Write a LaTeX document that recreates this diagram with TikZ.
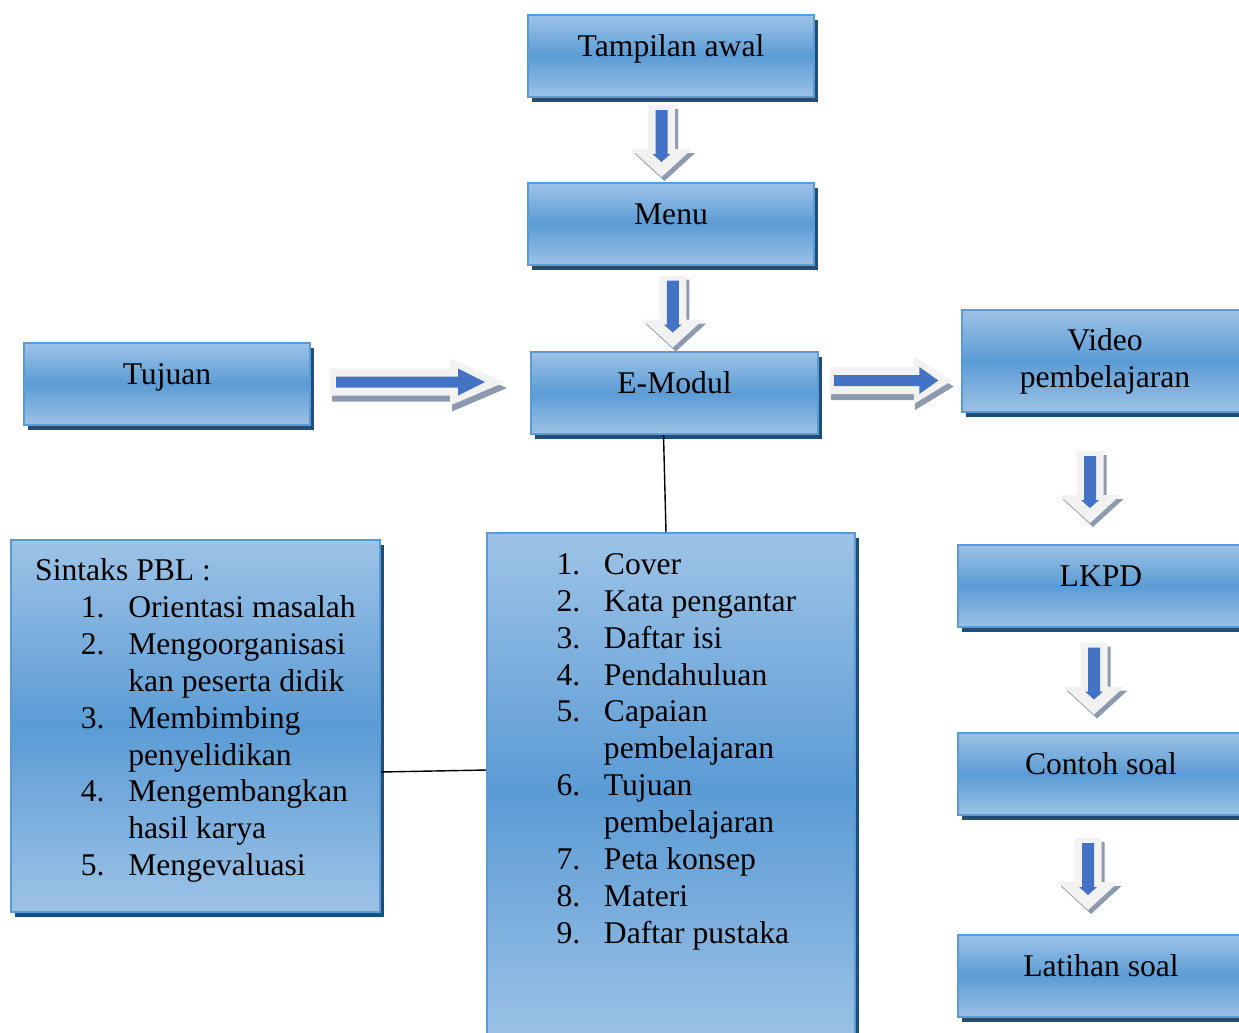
\documentclass[tikz,border=0pt]{standalone}
\usepackage{fontspec}
\setmainfont{Liberation Serif}
\usetikzlibrary{positioning,calc,shadows}

\definecolor{boxlight}{RGB}{157,195,230}
\definecolor{boxmid}{RGB}{91,155,213}
\definecolor{boxedge}{RGB}{91,155,213}
\definecolor{shadowblue}{RGB}{31,78,121}
\definecolor{arrowgrey}{RGB}{242,242,242}
\definecolor{arrowshade}{RGB}{141,153,174}
\definecolor{arrowblue}{RGB}{68,114,196}

\begin{document}
\begin{tikzpicture}[x=0.02cm,y=-0.02cm,font=\fontsize{18}{21}\selectfont,
    plain box/.style={rectangle,draw=boxedge,line width=1pt,
        top color=boxlight,bottom color=boxlight,middle color=boxmid,
        drop shadow={fill=shadowblue,opacity=1,shadow xshift=2.3pt,shadow yshift=-2.8pt},
        minimum width=5.72cm,minimum height=1.64cm},
    main box/.style={plain box,text height=12pt,text depth=12pt},
    downarrow/.pic={
        \fill[arrowshade,shift={(3,4)}] (-13.5,-36) -- (13.5,-36) -- (13.5,8) -- (30.5,8) -- (0,36) -- (-30.5,8) -- (-13.5,8) -- cycle;
        \fill[arrowgrey] (-13.5,-36) -- (13.5,-36) -- (13.5,8) -- (30.5,8) -- (0,36) -- (-30.5,8) -- (-13.5,8) -- cycle;
        \fill[arrowblue] (-6,-31) -- (6,-31) -- (6,13) -- (9,13) -- (0,21) -- (-9,13) -- (-6,13) -- cycle;},
    rightarrow/.pic={
        \fill[arrowshade,shift={(2,6)}] (-87.5,-13.5) -- (32.5,-13.5) -- (32.5,-23.5) -- (87.5,0) -- (32.5,23.5) -- (32.5,13.5) -- (-87.5,13.5) -- cycle;
        \fill[arrowgrey] (-87.5,-13.5) -- (32.5,-13.5) -- (32.5,-23.5) -- (87.5,0) -- (32.5,23.5) -- (32.5,13.5) -- (-87.5,13.5) -- cycle;
        \fill[arrowblue] (-81.5,-5.5) -- (40.5,-5.5) -- (40.5,-13.5) -- (67.5,0) -- (40.5,13.5) -- (40.5,5.5) -- (-81.5,5.5) -- cycle;}]
\useasboundingbox (0,0) rectangle (1239,1032);
\clip (0,0) rectangle (1239,1032);
%Nodes
    \node[main box] (tampilan) at (671,56) {Tampilan awal};
    \node[main box] (menu) at (671,224) {Menu};
    \node[main box,minimum width=5.74cm] (emodul) at (674.5,393) {E-Modul};
    \node[main box] (tujuan) at (167,384) {Tujuan};
    \node[plain box,align=center,minimum height=2.04cm] (video) at (1105,361) {Video\\pembelajaran};
    \node[main box] (lkpd) at (1101,586) {LKPD};
    \node[main box] (contoh) at (1101,774) {Contoh soal};
    \node[main box] (latihan) at (1101,976) {Latihan soal};
    \node[plain box,minimum width=7.38cm,minimum height=7.44cm] (sintaks) at (195.5,726) {%
        \begin{tabular}{@{}p{26pt}@{}p{27pt}@{}l@{}}
        \multicolumn{3}{@{}l@{}}{Sintaks PBL :}\\
         & 1. & Orientasi masalah\\
         & 2. & Mengoorganisasi\\
         &    & kan peserta didik\\
         & 3. & Membimbing\\
         &    & penyelidikan\\
         & 4. & Mengembangkan\\
         &    & hasil karya\\
         & 5. & Mengevaluasi\\[6pt]
        \end{tabular}};
    \node[plain box,minimum width=7.36cm,minimum height=10.34cm] (isi) at (671,791.5) {};
    \node[below right=0.32cm and 1.4cm of isi.north west,inner sep=0pt] (isiteks) {%
        \begin{tabular}{@{}p{27pt}@{}l@{}}
        1. & Cover\\
        2. & Kata pengantar\\
        3. & Daftar isi\\
        4. & Pendahuluan\\
        5. & Capaian\\
           & pembelajaran\\
        6. & Tujuan\\
           & pembelajaran\\
        7. & Peta konsep\\
        8. & Materi\\
        9. & Daftar pustaka
        \end{tabular}};
%Arrows
    \pic (ar1) at ($(tampilan.south)!0.5!(menu.north)+(-9.5,1)$) {downarrow};
    \pic (ar2) at ($(menu.south)!0.5!(emodul.north)+(0,3)$) {downarrow};
    \pic (ar3) at ($(tujuan.east)!0.5!(emodul.west)+(-3,-6.5)$) {rightarrow};
    \pic[xscale=0.7] (ar4) at ($(emodul.east)!0.5!(video.west)+(1,3.5)$) {rightarrow};
    \pic (ar5) at ($(video.south)!0.5!(lkpd.north)+(-13,8.5)$) {downarrow};
    \pic (ar6) at ($(lkpd.south)!0.5!(contoh.north)+(-7,-1.5)$) {downarrow};
    \pic (ar7) at ($(contoh.south)!0.5!(latihan.north)+(-13,-1)$) {downarrow};
%Lines
    \draw[line width=0.8pt] ([xshift=-0.22cm]emodul.south) -- ([xshift=-0.1cm]isi.north);
    \draw[line width=0.8pt] ([yshift=-0.92cm]sintaks.east) -- ([yshift=0.43cm]isi.west);
\end{tikzpicture}
\end{document}
